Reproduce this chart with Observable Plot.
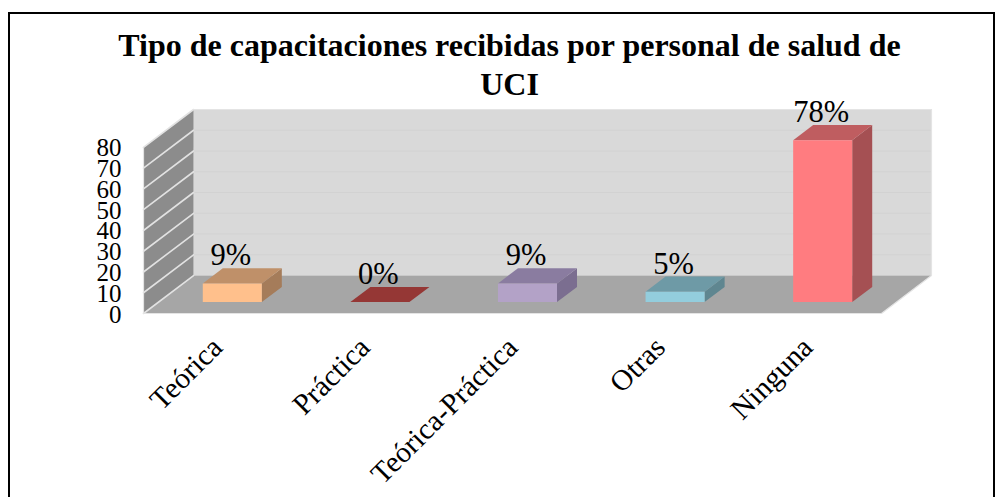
<!DOCTYPE html>
<html><head><meta charset="utf-8">
<script src="https://cdn.jsdelivr.net/npm/d3@7"></script>
<script src="https://cdn.jsdelivr.net/npm/@observablehq/plot@0.6"></script>
<style>
html,body{margin:0;padding:0;background:#fff;overflow:hidden;width:1003px;height:497px}
#box{position:absolute;left:8px;top:12px;width:983px;height:500px;border:2px solid #000;box-sizing:content-box}
#title{position:absolute;left:8px;top:26px;width:1003px;text-align:center;font:bold 32px/39px "Liberation Serif",serif;color:#000;white-space:nowrap}
#chart{position:absolute;left:0;top:100px}
svg{overflow:visible;background:transparent}
</style></head><body>
<div id="box"></div>
<div id="title">Tipo de capacitaciones recibidas por personal de salud de<br>UCI</div>
<div id="chart"></div>
<script>
const categories = ["Teórica","Práctica","Teórica-Práctica","Otras","Ninguna"];
const percents = [9,0,9,5,78];
const labels = ["9%","0%","9%","5%","78%"];
const yTicks = [0,10,20,30,40,50,60,70,80];
const frontColors = ["#FFC08C","#953735","#B3A2C7","#93CDDD","#FF7C80"];
const topColors = ["#BF9069","#8E3634","#8A7CA0","#6E9AA6","#BF5D60"];
const sideColors = ["#A57C5A","#7A2C2B","#7B6E90","#5F8690","#A55053"];

// oblique projection of the chart's depth, in axis units
const depthX = 0.339, depthY = 18.3, yMax = 80;
const px = (x, d) => x + d * depthX;
const py = (v, d) => v + d * depthY;
const poly = (face, color, pts) => pts.map(([x, v, d]) => ({face, color, x: px(x, d), y: py(v, d)}));

const n = categories.length;
const room = [
  ...poly("back", "#D9D9D9", [[0,0,1],[n,0,1],[n,yMax,1],[0,yMax,1]]),
  ...poly("floor", "#A6A6A6", [[0,0,0],[n,0,0],[n,0,1],[0,0,1]]),
  ...poly("wall", "#8C8C8C", [[0,0,0],[0,0,1],[0,yMax,1],[0,yMax,0]])
];
const wallLines = yTicks.flatMap(t => poly("l"+t, "", [[0,t,0],[0,t,1]]));
const backLines = yTicks.slice(1).flatMap(t => poly("b"+t, "", [[0,t,1],[n,t,1]]));
const edges = [
  ...poly("e1","",[[0,0,0],[n,0,0],[n,0,1],[n,yMax,1]]),
  ...poly("e2","",[[0,0,0],[0,yMax,0]]),
  ...poly("e3","",[[0,yMax,1],[n,yMax,1]])
];
const bw = 0.4, d0 = 0.3, d1 = 0.7;
const bars = categories.flatMap((c, i) => {
  const a = i + 0.5 - bw / 2, b = i + 0.5 + bw / 2, v = percents[i];
  if (v === 0) return poly("z"+i, frontColors[i], [[a,0,d0],[b,0,d0],[b,0,d1],[a,0,d1]]);
  return [
    ...poly("s"+i, sideColors[i], [[b,0,d0],[b,0,d1],[b,v,d1],[b,v,d0]]),
    ...poly("t"+i, topColors[i], [[a,v,d0],[b,v,d0],[b,v,d1],[a,v,d1]]),
    ...poly("f"+i, frontColors[i], [[a,0,d0],[b,0,d0],[b,v,d0],[a,v,d0]])
  ];
});
const faces = opts => ({x:"x", y:"y", z:"face", ...opts});
const barLabels = categories.map((c, i) => ({label: labels[i], x: px(i + 0.5, d0), y: py(percents[i], d1)}));

const plot = Plot.plot({
  width: 1003, height: 397,
  marginLeft: 143, marginRight: 72, marginTop: 9, marginBottom: 184,
  style: {background: "transparent", fontFamily: "'Liberation Serif',serif", color: "#000"},
  x: {domain: [0, n + depthX], axis: null},
  y: {domain: [0, yMax + depthY], axis: null},
  color: {type: "identity"},
  marks: [
    Plot.line(room, faces({fill: "color", stroke: "none"})),
    Plot.line(backLines, faces({stroke: "#D2D2D2", strokeWidth: 1})),
    Plot.line(wallLines, faces({stroke: "#E2E2E2", strokeWidth: 1.6})),
    Plot.line(edges, faces({stroke: "#E4E4E4", strokeWidth: 1.2})),
    Plot.line(bars, faces({fill: "color", stroke: "none"})),
    Plot.axisY({ticks: yTicks, tickSize: 0, tickPadding: 22, fontSize: 25, dy: 1, tickFormat: d => String(d), label: null, anchor: "left"}),
    Plot.axisX({ticks: categories.map((c, i) => i + 0.5), tickFormat: (d, i) => categories[i], tickSize: 0,
      tickRotate: -45, fontSize: 29.5, tickPadding: 24, dy: 5, label: null, anchor: "bottom"}),
    Plot.text(barLabels, {x: "x", y: "y", text: "label", dx: -1.5, dy: -3, lineAnchor: "bottom", fontSize: 30.5, fill: "#000"})
  ]
});
document.getElementById("chart").append(plot);
</script>
</body></html>
